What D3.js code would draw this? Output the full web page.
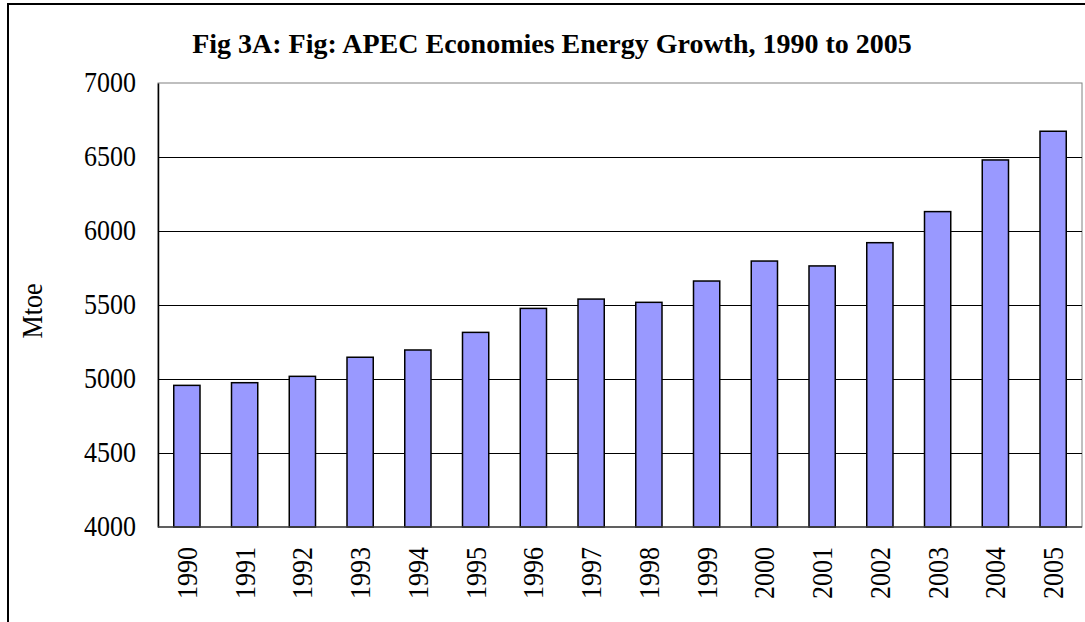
<!DOCTYPE html>
<html>
<head>
  <meta charset="UTF-8">
  <script src="https://d3js.org/d3.v7.min.js"></script>
  <style>
    body { margin: 0; background: #fff; }
    text { font-family: "Liberation Serif", "Times New Roman", serif; fill: #000; }
  </style>
</head>
<body>
  <div id="my_dataviz"></div>
  <script>
    // data
    var years = ["1990", "1991", "1992", "1993", "1994", "1995", "1996", "1997",
                 "1998", "1999", "2000", "2001", "2002", "2003", "2004", "2005"];
    var energy = [4957, 4975, 5018, 5147, 5196, 5315, 5477, 5540,
                  5518, 5662, 5797, 5764, 5921, 6131, 6480, 6674];
    var yTicks = [4000, 4500, 5000, 5500, 6000, 6500, 7000];

    var data = years.map(function (d, i) { return { year: d, value: energy[i] }; });

    var W = 1085, H = 622;
    var plot = { left: 158, top: 83, right: 1082, bottom: 527 };
    // the original text is drawn a bit taller than it is wide
    var stretch = 1.15;

    var svg = d3.select("#my_dataviz").append("svg")
      .attr("width", W)
      .attr("height", H);

    // outer chart border (right and bottom edges fall outside the picture)
    svg.append("rect")
      .attr("x", 8).attr("y", 4)
      .attr("width", W + 20).attr("height", H + 20)
      .attr("fill", "#fff")
      .attr("stroke", "#000")
      .attr("stroke-width", 2);

    var x = d3.scaleBand()
      .domain(years)
      .range([plot.left, plot.right])
      .padding(0);

    var y = d3.scaleLinear()
      .domain([4000, 7000])
      .range([plot.bottom, plot.top]);

    // plot area frame
    svg.append("rect")
      .attr("x", plot.left).attr("y", plot.top)
      .attr("width", plot.right - plot.left)
      .attr("height", plot.bottom - plot.top)
      .attr("fill", "#fff")
      .attr("stroke", "#808080")
      .attr("stroke-width", 1);

    // gridlines
    svg.append("g")
      .selectAll("line")
      .data(yTicks.filter(function (t) { return t > 4000 && t < 7000; }))
      .enter().append("line")
      .attr("x1", plot.left).attr("x2", plot.right)
      .attr("y1", function (d) { return Math.round(y(d)) + 0.5; })
      .attr("y2", function (d) { return Math.round(y(d)) + 0.5; })
      .attr("stroke", "#000")
      .attr("stroke-width", 1);

    // bars (excel style gap width 120%)
    var barW = x.bandwidth() / 2.2;
    svg.append("g")
      .selectAll("rect")
      .data(data)
      .enter().append("rect")
      .attr("x", function (d) { return x(d.year) + (x.bandwidth() - barW) / 2; })
      .attr("y", function (d) { return y(d.value); })
      .attr("width", barW)
      .attr("height", function (d) { return y(4000) - y(d.value); })
      .attr("fill", "#9999ff")
      .attr("stroke", "#000")
      .attr("stroke-width", 1.5);

    // y axis
    var yAxis = svg.append("g")
      .attr("transform", "translate(" + plot.left + ",0)")
      .call(d3.axisLeft(y).tickValues(yTicks).tickSize(0).tickPadding(22).tickFormat(d3.format("d")));
    yAxis.select(".domain").attr("stroke", "#000").attr("stroke-width", 1.5);
    yAxis.selectAll("text")
      .style("font-size", "26px")
      .style("font-family", "'Liberation Serif', serif")
      .attr("dy", "0.3em")
      .attr("transform", "scale(1," + stretch + ")");

    // x axis baseline
    svg.append("line")
      .attr("x1", plot.left).attr("x2", plot.right)
      .attr("y1", plot.bottom).attr("y2", plot.bottom)
      .attr("stroke", "#404040")
      .attr("stroke-width", 1.5);

    // x labels, rotated
    svg.append("g")
      .selectAll("text")
      .data(years)
      .enter().append("text")
      .attr("transform", function (d) {
        return "translate(" + (x(d) + x.bandwidth() / 2 + 10) + "," + (plot.bottom + 20) + ") rotate(-90) scale(1," + stretch + ")";
      })
      .attr("text-anchor", "end")
      .style("font-size", "26px")
      .text(function (d) { return d; });

    // y axis title
    svg.append("text")
      .attr("transform", "translate(42,311) rotate(-90) scale(1," + stretch + ")")
      .attr("text-anchor", "middle")
      .style("font-size", "26px")
      .text("Mtoe");

    // chart title
    svg.append("text")
      .attr("x", 552)
      .attr("y", 53)
      .attr("text-anchor", "middle")
      .style("font-size", "28px")
      .style("font-weight", "bold")
      .text("Fig 3A: Fig: APEC Economies Energy Growth, 1990 to 2005");
  </script>
</body>
</html>
